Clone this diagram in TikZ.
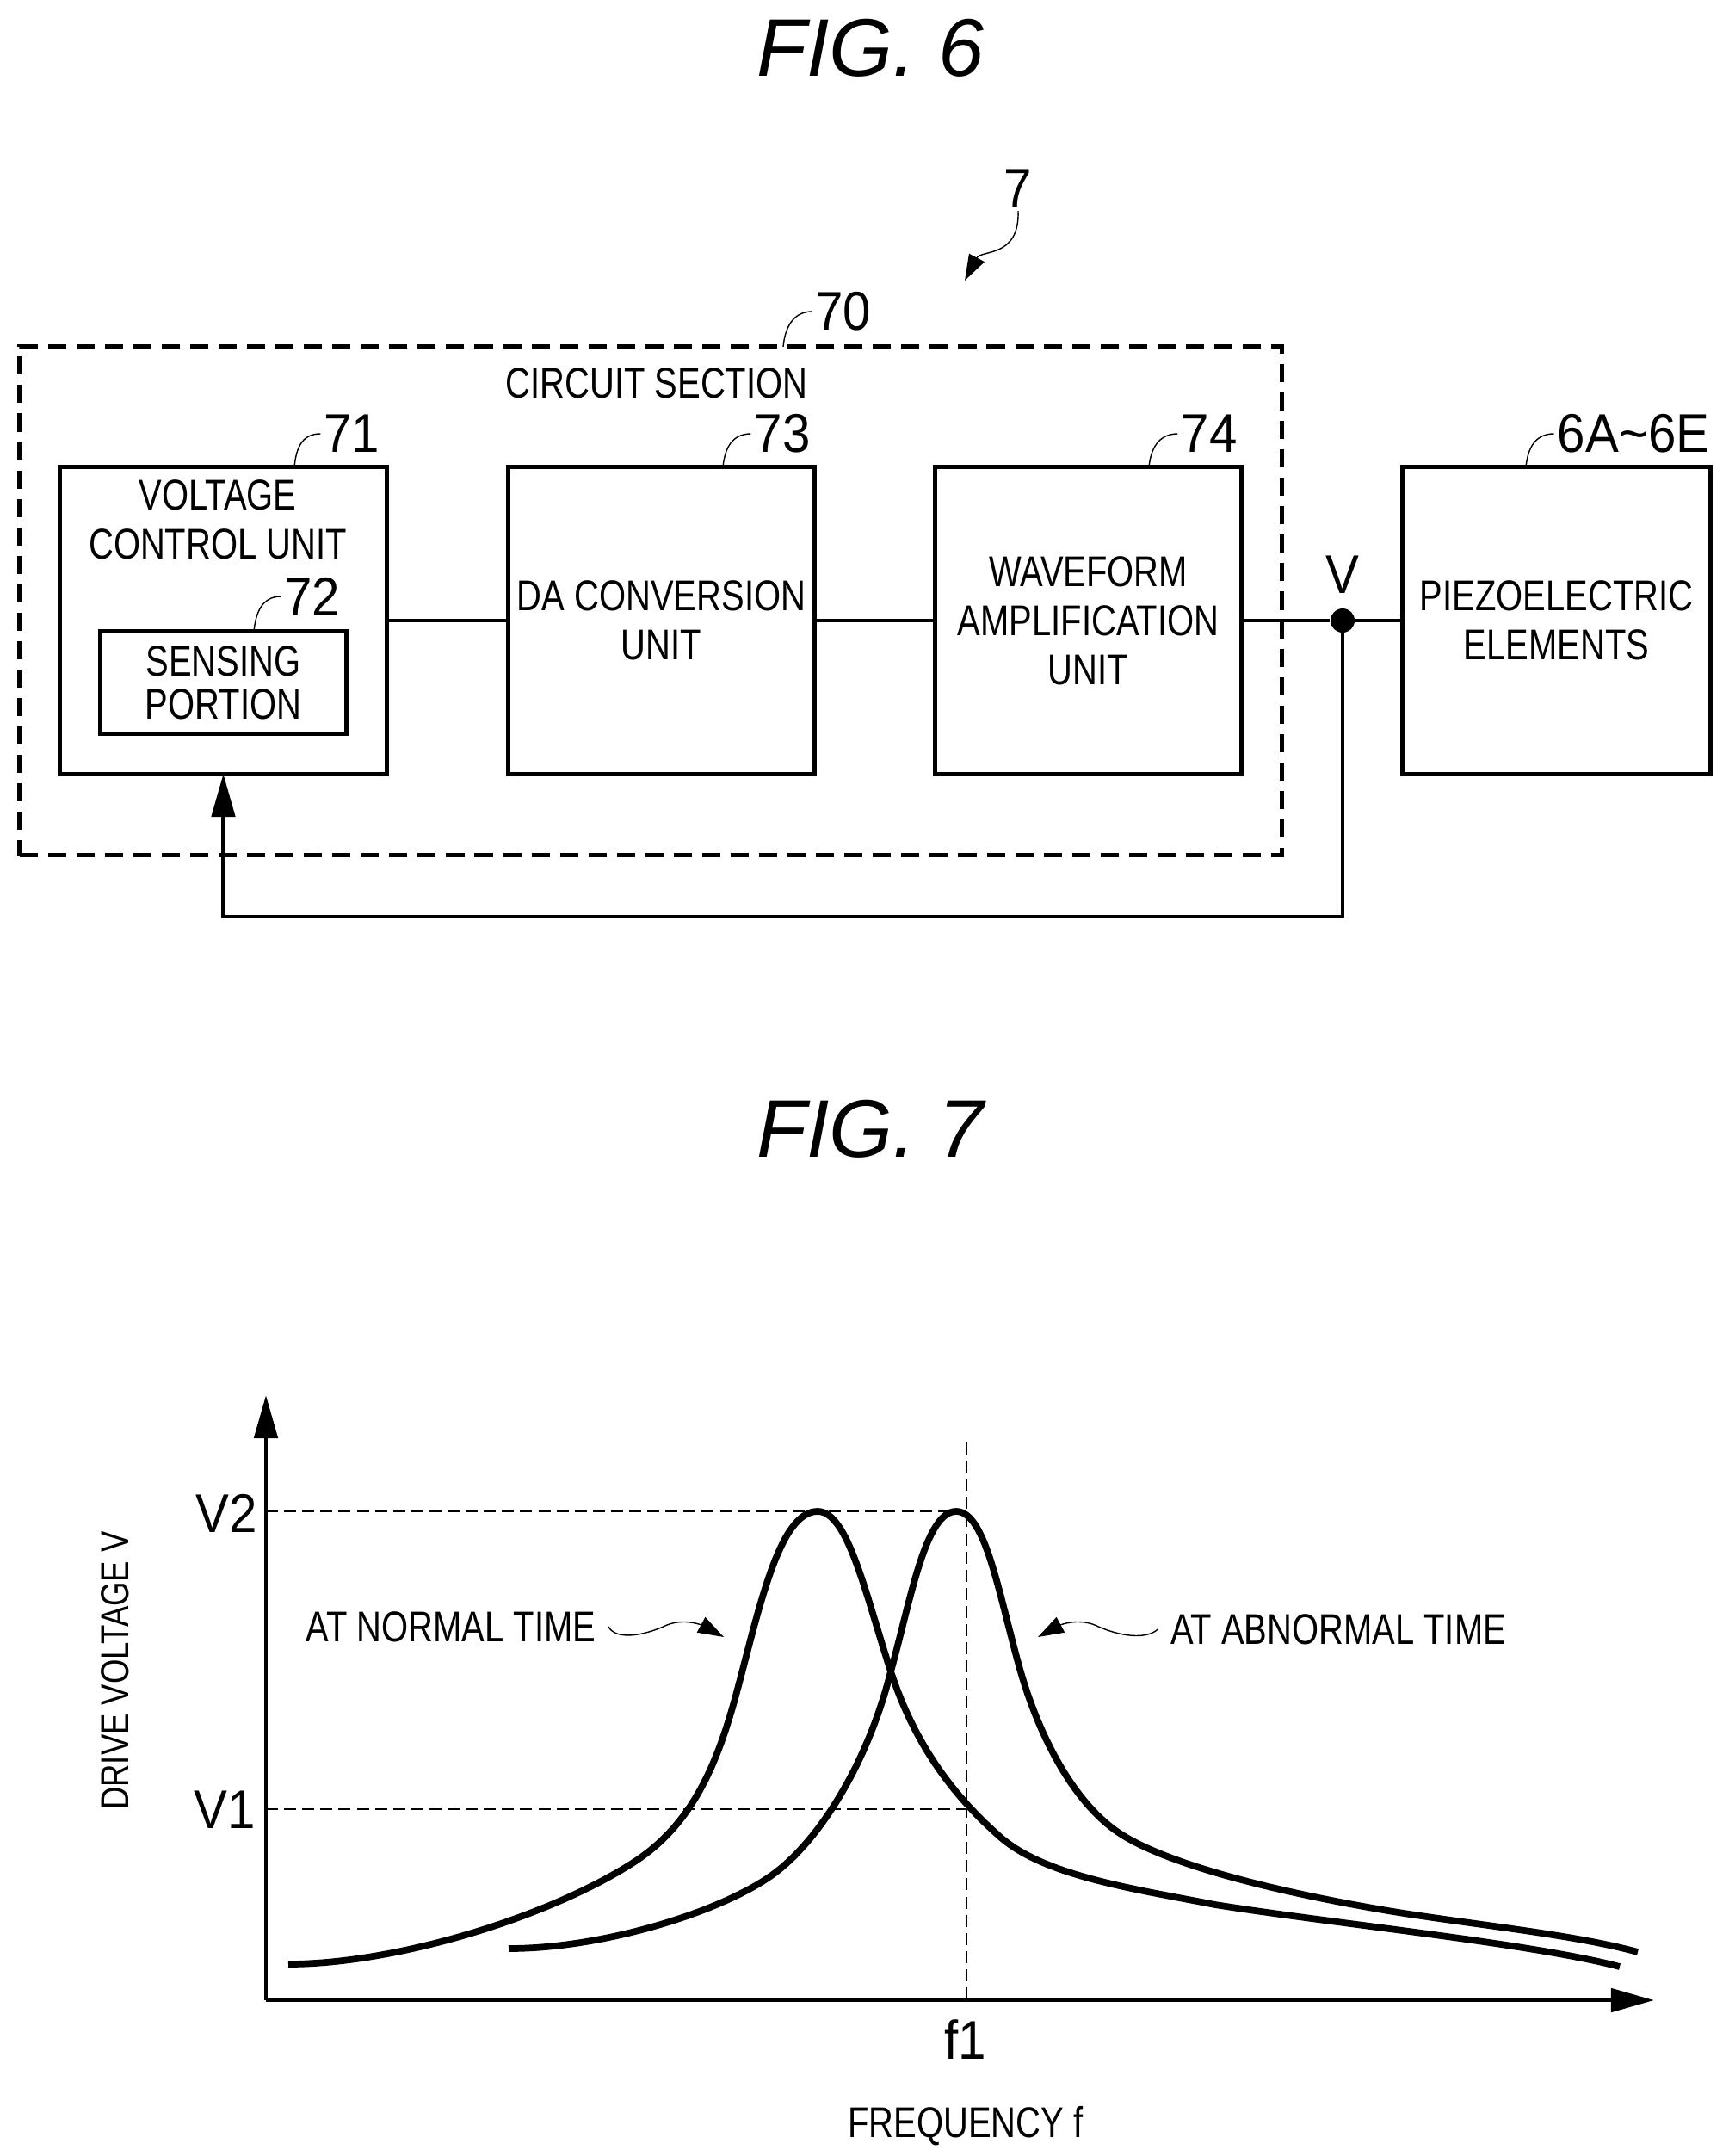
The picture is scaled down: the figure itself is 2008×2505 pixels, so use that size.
\documentclass[tikz,border=0pt]{standalone}
\usepackage{fontspec}
\usepackage{tikz}
\usetikzlibrary{arrows.meta}
\setmainfont[FakeStretch=0.8]{Liberation Sans}
\newfontfamily\numfont[FakeStretch=0.92]{Liberation Sans}
\newfontfamily\titlefont{Liberation Sans}

\tikzset{
  unitbox/.style={draw,line width=1.4pt,outer sep=0pt,inner sep=0pt,align=center,font=\fontsize{14.2}{16.2}\selectfont},
  lab/.style={inner sep=1pt,align=center,font=\fontsize{14.2}{16.2}\selectfont},
  num/.style={inner sep=1pt,font=\fontsize{18}{20}\numfont},
  figtitle/.style={font=\fontsize{27}{29}\titlefont\itshape},
  wire/.style={line width=1.4pt},
  leader/.style={line width=0.4pt},
  axis/.style={line width=1.4pt},
  guide/.style={line width=0.7pt,dash pattern=on 4pt off 2pt},
  curve/.style={line width=2.2pt},
  bigtip/.style={-{Triangle[length=0.5cm,width=0.27cm]}},
  smalltip/.style={-{Triangle[length=0.3cm,width=0.2cm]}}
}

\begin{document}
\begin{tikzpicture}[x=0.01cm,y=-0.01cm]
\useasboundingbox (0,0) rectangle (2008,2505);

\node[figtitle] (fig6) at (1011,56) {FIG. 6};
\node[figtitle] (fig7) at (1011,1312) {FIG. 7};

% Circuit section
\node[draw,line width=1.4pt,dash pattern=on 6pt off 3.4pt,outer sep=0pt,minimum width=14.66cm,minimum height=5.91cm] (circuit) at (756,698) {};
\node[lab] (tcircuit) at (763,445) {CIRCUIT SECTION};

\node[unitbox,minimum width=3.79cm,minimum height=3.56cm] (volt) at (259.5,721) {};
\node[lab] (tvolt) at (253,604) {VOLTAGE\\[0.1pt]CONTROL UNIT};
\node[unitbox,minimum width=2.85cm,minimum height=1.19cm] (sense) at (259.5,793) {SENSING\\[-2pt]PORTION};
\node[unitbox,minimum width=3.55cm,minimum height=3.56cm] (daconv) at (768.5,721) {DA CONVERSION\\UNIT};
\node[unitbox,minimum width=3.55cm,minimum height=3.56cm] (amp) at (1264.5,721) {WAVEFORM\\AMPLIFICATION\\UNIT};
\node[unitbox,minimum width=3.57cm,minimum height=3.56cm] (piezo) at (1808.5,721) {PIEZOELECTRIC\\ELEMENTS};

\node[circle,fill,inner sep=0pt,minimum size=0.28cm] (junction) at (1560,721) {};
\node[num] (tv) at (1560,668) {V};
\coordinate (fbk) at (1560,1065);

\draw[wire] (volt) -- (daconv);
\draw[wire] (daconv) -- (amp);
\draw[wire] (amp) -- (junction);
\draw[wire] (junction) -- (piezo);
\draw[wire,bigtip] (junction) -- (fbk) -| (volt.south);

% Reference numbers
\node[num] (n7) at (1183,219) {7};
\coordinate (a7) at (1121,326);
\draw[leader,smalltip] (n7.south) .. controls (1185,300) and (1140,290) .. (a7);

\node[num] (n70) at (980,362) {70};
\coordinate (l70) at (910,403);
\draw[leader] (n70.west) .. controls +(-22,0) and +(2,-22) .. (l70);
\node[num] (n71) at (409,504) {71};
\coordinate (l71) at (342,543);
\draw[leader] (n71.west) .. controls +(-22,0) and +(2,-22) .. (l71);
\node[num] (n72) at (363,693) {72};
\coordinate (l72) at (295,734);
\draw[leader] (n72.west) .. controls +(-22,0) and +(2,-22) .. (l72);
\node[num] (n73) at (909,504) {73};
\coordinate (l73) at (840,543);
\draw[leader] (n73.west) .. controls +(-22,0) and +(2,-22) .. (l73);
\node[num] (n74) at (1405,504) {74};
\coordinate (l74) at (1335,543);
\draw[leader] (n74.west) .. controls +(-22,0) and +(2,-22) .. (l74);
\node[num] (n6) at (1898,504) {6A\textasciitilde6E};
\coordinate (l6) at (1773,543);
\draw[leader] (n6.west) .. controls +(-22,0) and +(2,-22) .. (l6);

% Axes
\coordinate (orig) at (309,2324);
\coordinate (ytip) at (309,1621);
\coordinate (xtip) at (1922,2324);
\draw[axis,bigtip] (orig) -- (ytip);
\draw[axis,bigtip] (orig) -- (xtip);

\node[lab,rotate=90,font=\fontsize{13}{15}\selectfont] (tdrive) at (134,1941) {DRIVE VOLTAGE V};
\node[lab] (tfreq) at (1122,2470) {FREQUENCY f};
\node[num] (tvtwo) at (263,1758) {V2};
\node[num] (tvone) at (261,2103) {V1};
\node[num] (tfone) at (1122,2370) {f1};

% Guides
\coordinate (ftop) at (1123,1676);
\coordinate (fbot) at (1123,2324);
\coordinate (vtwoa) at (309,1756);
\coordinate (vtwob) at (1123,1756);
\coordinate (vonea) at (309,2102);
\coordinate (voneb) at (1123,2102);
\draw[guide] (ftop) -- (fbot);
\draw[guide] (vtwoa) -- (vtwob);
\draw[guide] (vonea) -- (voneb);

% At normal time
\draw[curve] (335,2282) .. controls (460,2282) and (640,2227) .. (739,2162)
  .. controls (805,2118) and (833,2050) .. (855,1970)
  .. controls (882,1870) and (905,1756) .. (950,1756)
  .. controls (985,1756) and (1005,1850) .. (1035,1942)
  .. controls (1060,2018) and (1100,2080) .. (1163,2135)
  .. controls (1215,2180) and (1320,2195) .. (1412,2213)
  .. controls (1550,2235) and (1780,2258) .. (1882,2285);

% At abnormal time
\draw[curve] (591,2264) .. controls (700,2264) and (835,2222) .. (895,2180)
  .. controls (950,2142) and (1008,2050) .. (1035,1942)
  .. controls (1058,1860) and (1075,1756) .. (1111,1756)
  .. controls (1145,1756) and (1160,1850) .. (1185,1939)
  .. controls (1205,2010) and (1245,2095) .. (1304,2132)
  .. controls (1370,2173) and (1520,2205) .. (1625,2222)
  .. controls (1720,2237) and (1830,2248) .. (1903,2268);

\node[lab,inner sep=4pt] (tnormal) at (524,1890) {AT NORMAL TIME};
\coordinate (anormal) at (841,1902);
\draw[leader,smalltip] (tnormal.east) .. controls (715,1905) and (745,1902) .. (775,1888) .. controls (795,1880) and (815,1888) .. (anormal);

\node[lab,inner sep=4pt] (tabnormal) at (1555,1893) {AT ABNORMAL TIME};
\coordinate (aabnormal) at (1206,1902);
\draw[leader,smalltip] (tabnormal.west) .. controls (1332,1905) and (1302,1902) .. (1272,1888) .. controls (1252,1880) and (1232,1888) .. (aabnormal);

\end{tikzpicture}
\end{document}
